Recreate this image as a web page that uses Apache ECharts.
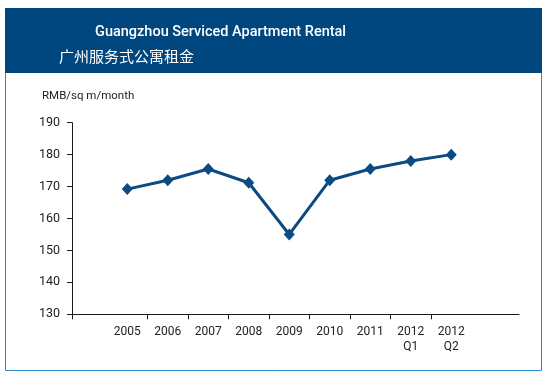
<!DOCTYPE html>
<html>
<head>
<meta charset="utf-8">
<script src="https://cdn.jsdelivr.net/npm/echarts@6/dist/echarts.min.js"></script>
<style>
  html, body { margin: 0; padding: 0; background: #fff; }
  #chart { width: 546px; height: 378px; }
</style>
</head>
<body>
<div id="chart"></div>
<script>
const periods = ['2005', '2006', '2007', '2008', '2009', '2010', '2011', '2012\nQ1', '2012\nQ2'];
const rents = [169.2, 172, 175.5, 171.2, 155, 172, 175.5, 178, 180];
const yTicks = { min: 130, max: 190, step: 10 };
const titleEn = 'Guangzhou Serviced Apartment Rental';
const titleCn = '广州服务式公寓租金';
const unitLabel = 'RMB/sq m/month';

// boundaries between periods, used only to place the small x ticks
const boundaries = Array.from({ length: periods.length + 1 }, (_, i) => String(i));

const chart = echarts.init(document.getElementById('chart'));

const axisColor = '#1a1a1a';
const lineColor = '#0b4a83';
const fontFamily = 'Roboto, "Noto Sans", sans-serif';

chart.setOption({
  backgroundColor: '#fff',
  animation: false,
  textStyle: { fontFamily: fontFamily },
  graphic: [
    {
      type: 'rect',
      shape: { x: 5.5, y: 8.5, width: 536, height: 362 },
      style: { fill: 'none', stroke: '#2a8fd0', lineWidth: 1 },
      silent: true
    },
    {
      type: 'rect',
      shape: { x: 5, y: 8, width: 537, height: 65 },
      style: { fill: '#00467f' },
      silent: true
    }
  ],
  title: [
    {
      text: titleEn,
      left: 90,
      top: 20,
      textStyle: { color: '#fff', fontSize: 14.5, fontWeight: 500, fontFamily: fontFamily }
    },
    {
      text: titleCn,
      left: 54,
      top: 44,
      textStyle: { color: '#fff', fontSize: 15, fontWeight: 'normal', fontFamily: '"Noto Sans CJK SC", sans-serif' }
    },
    {
      text: unitLabel,
      left: 37,
      top: 85,
      textStyle: { color: '#222', fontSize: 11.5, fontWeight: 'normal', fontFamily: fontFamily }
    }
  ],
  grid: [
    { left: 72, right: 27, top: 122.7, bottom: 63.7 },
    { left: 107, right: 74.5, top: 122.7, bottom: 63.7 }
  ],
  xAxis: [
    {
      gridIndex: 0,
      type: 'category',
      boundaryGap: false,
      data: ['', ''],
      axisLine: { lineStyle: { color: axisColor, width: 1 } },
      axisTick: { show: true, length: 5, interval: (i) => i === 0, lineStyle: { color: axisColor } },
      axisLabel: { show: false }
    },
    {
      gridIndex: 1,
      type: 'category',
      position: 'bottom',
      boundaryGap: true,
      data: periods,
      axisLine: { show: false },
      axisTick: { show: false },
      axisLabel: { color: '#222', fontSize: 12, lineHeight: 15, margin: 10, interval: 0 }
    },
    {
      gridIndex: 1,
      type: 'category',
      position: 'bottom',
      boundaryGap: false,
      data: boundaries,
      axisLine: { show: false },
      axisTick: {
        show: true,
        length: 5,
        interval: (i) => i > 0 && i < periods.length,
        lineStyle: { color: axisColor }
      },
      axisLabel: { show: false }
    }
  ],
  yAxis: [
    {
      gridIndex: 0,
      type: 'value',
      min: yTicks.min,
      max: yTicks.max,
      interval: yTicks.step,
      axisLine: { show: true, lineStyle: { color: axisColor, width: 1 } },
      axisTick: { show: true, length: 5, lineStyle: { color: axisColor } },
      axisLabel: { color: '#222', fontSize: 12.5, margin: 12 },
      splitLine: { show: false }
    },
    {
      gridIndex: 1,
      type: 'value',
      min: yTicks.min,
      max: yTicks.max,
      interval: yTicks.step,
      show: false
    }
  ],
  series: [
    {
      type: 'line',
      xAxisIndex: 1,
      yAxisIndex: 1,
      data: rents,
      symbol: 'diamond',
      symbolSize: [11, 12],
      itemStyle: { color: lineColor },
      lineStyle: { color: lineColor, width: 3 }
    }
  ]
});
</script>
</body>
</html>
